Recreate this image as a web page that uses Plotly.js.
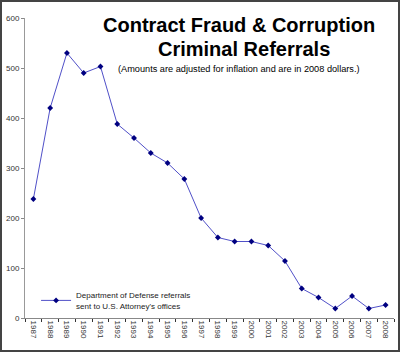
<!DOCTYPE html>
<html>
<head>
<meta charset="utf-8">
<script src="https://cdn.plot.ly/plotly-3.0.1.min.js"></script>
<style>
html,body{margin:0;padding:0;background:#fff;}
#wrap{position:relative;width:400px;height:352px;}
#chart{position:absolute;left:0;top:0;width:400px;height:352px;}
#frame{position:absolute;left:0;top:0;width:400px;height:352px;box-sizing:border-box;border:2px solid #444;pointer-events:none;}
</style>
</head>
<body>
<div id="wrap"><div id="chart"></div><div id="frame"></div></div>
<script>
const years = ["1987","1988","1989","1990","1991","1992","1993","1994","1995","1996","1997","1998","1999","2000","2001","2002","2003","2004","2005","2006","2007","2008"];
const referrals = [238,420,530,490,503,388,360,330,310,278,200,161,153,153,145,114,59,41,19,44,19,26];
const seriesName = "Department of Defense referrals<br>sent to U.S. Attorney's offices";
const yTicks = [0,100,200,300,400,500,600];

const font = "Liberation Sans, Arial, sans-serif";
const trace = {
  x: years, y: referrals, type: 'scatter', mode: 'lines+markers',
  name: seriesName,
  line: {color: '#5050c8', width: 1},
  marker: {symbol: 'diamond', size: 4.5, color: '#000080'}
};
const layout = {
  width: 400, height: 352,
  margin: {l: 25, r: 6, t: 18, b: 34},
  paper_bgcolor: '#fff', plot_bgcolor: '#fff',
  font: {family: font, color: '#333'},
  showlegend: true,
  legend: {x: 0.03, y: 0.115, xanchor: 'left', yanchor: 'top', bgcolor: 'rgba(0,0,0,0)',
           font: {size: 8, family: font, color: '#222'}, itemwidth: 30, tracegroupgap: 0},
  xaxis: {type: 'category', range: [-0.5, 21.5], tickangle: 90, tickson: 'boundaries',
          ticks: 'outside', ticklen: 3, tickcolor: '#333', showline: true, linecolor: '#888', linewidth: 1,
          showgrid: false, zeroline: false, tickfont: {size: 8, family: font, color: '#333'}, fixedrange: true},
  yaxis: {range: [0, 600], tickvals: yTicks, ticks: 'outside', ticklen: 3, tickcolor: '#888',
          showline: true, linecolor: '#999', linewidth: 1, showgrid: false, zeroline: false,
          tickfont: {size: 8, family: font, color: '#333'}, fixedrange: true},
  annotations: [
    {text: '<b>Contract Fraud &amp; Corruption</b>', xref: 'paper', yref: 'paper', x: 0.581, y: 0.977,
     xanchor: 'center', yanchor: 'middle', showarrow: false, font: {size: 20, family: font, color: '#000'}},
    {text: '<b>Criminal Referrals</b>', xref: 'paper', yref: 'paper', x: 0.593, y: 0.897,
     xanchor: 'center', yanchor: 'middle', showarrow: false, font: {size: 20, family: font, color: '#000'}},
    {text: '(Amounts are adjusted for inflation and are in 2008 dollars.)', xref: 'paper', yref: 'paper', x: 0.58, y: 0.83,
     xanchor: 'center', yanchor: 'middle', showarrow: false, font: {size: 9.2, family: font, color: '#000'}}
  ]
};
Plotly.newPlot('chart', [trace], layout, {staticPlot: true, displayModeBar: false});
</script>
</body>
</html>
